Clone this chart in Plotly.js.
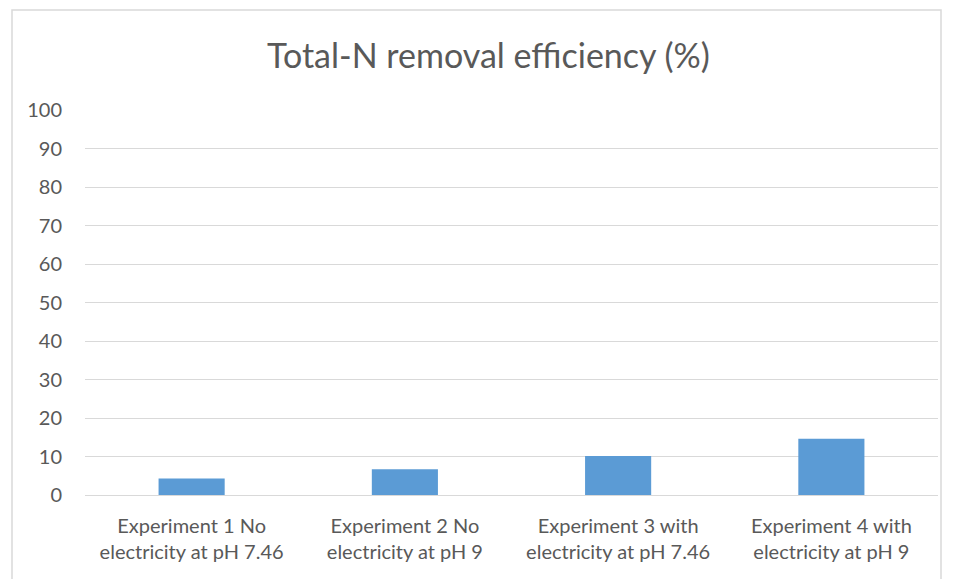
<!DOCTYPE html>
<html>
<head>
<meta charset="utf-8">
<script src="https://cdn.plot.ly/plotly-3.0.1.min.js"></script>
<style>html,body{margin:0;padding:0;background:#fff;}#chart{width:954px;height:579px;}</style>
</head>
<body>
<div id="chart"></div>
<script>
const categories = [
  "Experiment 1 No<br>electricity at pH 7.46",
  "Experiment 2 No<br>electricity at pH 9",
  "Experiment 3 with<br>electricity at pH 7.46",
  "Experiment 4 with<br>electricity at pH 9"
];
const removalEfficiency = [4.3, 6.7, 10.1, 14.6];
const yTicks = [0, 10, 20, 30, 40, 50, 60, 70, 80, 90, 100];

const fontFam = "Lato, 'Open Sans', sans-serif";
const data = [{
  type: "bar",
  x: categories,
  y: removalEfficiency,
  marker: {color: "#5b9bd5"},
  hoverinfo: "x+y"
}];
const layout = {
  width: 954, height: 579,
  margin: {l: 85, r: 16, t: 110, b: 84},
  paper_bgcolor: "#ffffff",
  plot_bgcolor: "#ffffff",
  bargap: 0.69,
  showlegend: false,
  title: {text: "Total-N removal efficiency (%)", x: 0.512, xanchor: "center", y: 0.903, yanchor: "middle",
          font: {family: fontFam, size: 34, color: "#595959"}},
  font: {family: fontFam, color: "#595959", size: 20},
  xaxis: {
    type: "category",
    showgrid: false,
    showline: true, linecolor: "#d9d9d9", linewidth: 1,
    ticks: "", ticklabelstandoff: 13,
    tickfont: {family: fontFam, size: 20, color: "#595959"},
    fixedrange: true
  },
  yaxis: {
    range: [0, 100],
    tickvals: yTicks,
    ticktext: yTicks.map(String),
    showgrid: true, gridcolor: "#d9d9d9", gridwidth: 1,
    zeroline: false, showline: false,
    ticks: "", ticklabelstandoff: 22,
    tickfont: {family: fontFam, size: 20, color: "#595959"},
    fixedrange: true
  },
  shapes: [{
    type: "rect", xref: "paper", yref: "paper",
    x0: -73/853, x1: 856/853, y0: -0.3, y1: 1 + 100/385,
    line: {color: "#d9d9d9", width: 1.5}, fillcolor: "rgba(0,0,0,0)", layer: "below"
  }]
};
Plotly.newPlot("chart", data, layout, {displayModeBar: false, staticPlot: true});
</script>
</body>
</html>
